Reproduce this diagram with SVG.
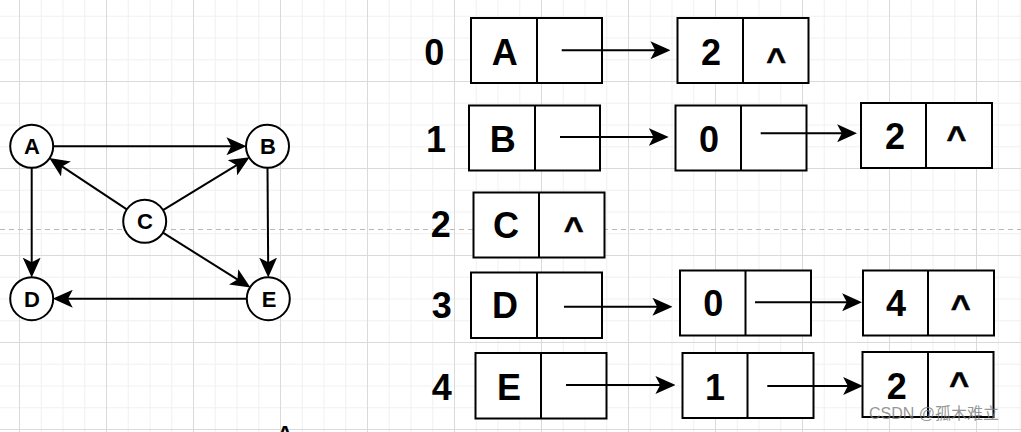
<svg xmlns="http://www.w3.org/2000/svg" width="1021" height="432" viewBox="0 0 1021 432">
<style>
.box{fill:#fff;stroke:#000;stroke-width:2}
.div{stroke:#000;stroke-width:2}
.t{font-family:"Liberation Sans",Arial,sans-serif;font-weight:bold;font-size:36px;fill:#000;text-anchor:middle}
.c{font-family:"Liberation Sans",Arial,sans-serif;font-weight:bold;font-size:34px;fill:#000;text-anchor:middle;stroke:#000;stroke-width:0.6}
.n{font-family:"Liberation Sans",Arial,sans-serif;font-weight:bold;font-size:22px;fill:#000;text-anchor:middle}
.circ{fill:#fff;stroke:#000;stroke-width:2}
.e{stroke:#000;stroke-width:2;fill:none;marker-end:url(#arr)}
</style>
<defs>
<pattern id="grid" patternUnits="userSpaceOnUse" x="19" y="81" width="87" height="87">
<rect x="0" y="0" width="87" height="87" fill="#fff"/>
<rect x="21.75" y="0" width="1" height="87" fill="#f1f1f1"/>
<rect x="43.5" y="0" width="1" height="87" fill="#f1f1f1"/>
<rect x="65.25" y="0" width="1" height="87" fill="#f1f1f1"/>
<rect x="0" y="21.75" width="87" height="1" fill="#f1f1f1"/>
<rect x="0" y="43.5" width="87" height="1" fill="#f1f1f1"/>
<rect x="0" y="65.25" width="87" height="1" fill="#f1f1f1"/>
<rect x="0" y="0" width="1" height="87" fill="#dadada"/>
<rect x="0" y="0" width="87" height="1" fill="#dadada"/>
</pattern>
<marker id="arr" markerUnits="userSpaceOnUse" markerWidth="20" markerHeight="18" viewBox="0 0 19 17" refX="11" refY="8.5" orient="auto">
<path d="M0,0 L19,8.5 L0,17 L4.5,8.5 Z" fill="#000"/>
</marker>
</defs>
<rect width="1021" height="432" fill="url(#grid)"/>
<line x1="0" y1="229.5" x2="1021" y2="229.5" stroke="#b8b8b8" stroke-width="1" stroke-dasharray="5 4"/>

<g id="connectors">
<line class="e" x1="53.2" y1="146.3" x2="238" y2="146.3"/>
<line class="e" x1="31.7" y1="167.8" x2="31.7" y2="269.2"/>
<line class="e" x1="267.5" y1="167.8" x2="268.2" y2="269.2"/>
<line class="e" x1="246.8" y1="298.7" x2="61.2" y2="298.7"/>
<line class="e" x1="126.8" y1="209.4" x2="56.3" y2="162.6"/>
<line class="e" x1="163" y1="210.1" x2="242.4" y2="161.7"/>
<line class="e" x1="162.9" y1="232.7" x2="243.3" y2="283.1"/>
</g>

<g id="node-A"><circle class="circ" cx="31.7" cy="146.3" r="21.5"/><text class="n" x="32" y="154.3">A</text></g>
<g id="node-B"><circle class="circ" cx="267.5" cy="146.3" r="21.5"/><text class="n" x="268" y="154.3">B</text></g>
<g id="node-C"><circle class="circ" cx="144.7" cy="221.3" r="21.5"/><text class="n" x="145" y="229.3">C</text></g>
<g id="node-D"><circle class="circ" cx="31.7" cy="298.7" r="21.5"/><text class="n" x="32" y="306.7">D</text></g>
<g id="node-E"><circle class="circ" cx="268.3" cy="298.7" r="21.5"/><text class="n" x="269" y="306.7">E</text></g>

<g id="idx-0"><text class="t" x="434.3" y="65">0</text></g>
<g id="idx-1"><text class="t" x="436" y="151.7">1</text></g>
<g id="idx-2"><text class="t" x="440.7" y="237">2</text></g>
<g id="idx-3"><text class="t" x="441.7" y="318">3</text></g>
<g id="idx-4"><text class="t" x="441.7" y="400">4</text></g>

<g id="row0-head"><rect class="box" x="471" y="18" width="131" height="65"/><line class="div" x1="537" y1="18" x2="537" y2="83"/><text class="t" x="504.7" y="65">A</text></g>
<g id="row0-n1"><rect class="box" x="677.5" y="18" width="131" height="65"/><line class="div" x1="743" y1="18" x2="743" y2="83"/><text class="t" x="711" y="65">2</text><text class="c" x="776.2" y="71">^</text></g>

<g id="row1-head"><rect class="box" x="469" y="105.5" width="131" height="65"/><line class="div" x1="535" y1="105.5" x2="535" y2="170.5"/><text class="t" x="502.7" y="151.7">B</text></g>
<g id="row1-n1"><rect class="box" x="675.5" y="105.5" width="131" height="65"/><line class="div" x1="741" y1="105.5" x2="741" y2="170.5"/><text class="t" x="709" y="151.7">0</text></g>
<g id="row1-n2"><rect class="box" x="861" y="103" width="131" height="65"/><line class="div" x1="926" y1="103" x2="926" y2="168"/><text class="t" x="895" y="149">2</text><text class="c" x="956.5" y="148.5">^</text></g>

<g id="row2-head"><rect class="box" x="473.5" y="192.5" width="131" height="65"/><line class="div" x1="539" y1="192.5" x2="539" y2="257.5"/><text class="t" x="506" y="238">C</text><text class="c" x="573.8" y="240">^</text></g>

<g id="row3-head"><rect class="box" x="471" y="272.5" width="131" height="65.5"/><line class="div" x1="537" y1="272.5" x2="537" y2="338"/><text class="t" x="505" y="318">D</text></g>
<g id="row3-n1"><rect class="box" x="680" y="270.5" width="131" height="65"/><line class="div" x1="745.5" y1="270.5" x2="745.5" y2="335.5"/><text class="t" x="713.3" y="316">0</text></g>
<g id="row3-n2"><rect class="box" x="863" y="270.5" width="131" height="65"/><line class="div" x1="928" y1="270.5" x2="928" y2="335.5"/><text class="t" x="896" y="316">4</text><text class="c" x="960.7" y="317.5">^</text></g>

<g id="row4-head"><rect class="box" x="475.5" y="353" width="131" height="65.5"/><line class="div" x1="541" y1="353" x2="541" y2="418.5"/><text class="t" x="509" y="400">E</text></g>
<g id="row4-n1"><rect class="box" x="682.5" y="353" width="131" height="65"/><line class="div" x1="747.5" y1="353" x2="747.5" y2="418"/><text class="t" x="715" y="400">1</text></g>
<g id="row4-n2"><rect class="box" x="862.5" y="352" width="131" height="65"/><line class="div" x1="928" y1="352" x2="928" y2="417"/><text class="t" x="896.7" y="399">2</text><text class="c" x="959.2" y="394.5">^</text></g>

<g id="list-connectors">
<line class="e" x1="561.7" y1="50.3" x2="662" y2="50.3"/>
<line class="e" x1="560" y1="137" x2="660.3" y2="137"/>
<line class="e" x1="760.7" y1="133.3" x2="848.7" y2="133.3"/>
<line class="e" x1="564" y1="306.7" x2="664" y2="306.7"/>
<line class="e" x1="755" y1="302.3" x2="853.7" y2="302.3"/>
<line class="e" x1="566" y1="385" x2="667" y2="385"/>
<line class="e" x1="767.3" y1="386" x2="854.7" y2="386"/>
</g>

<text class="n" x="285" y="441">A</text>
<text x="869" y="419" font-family="'Liberation Sans','Noto Sans CJK SC',sans-serif" font-size="16" fill="#7a7a7a" fill-opacity="0.8">CSDN @孤木难立</text>
</svg>
